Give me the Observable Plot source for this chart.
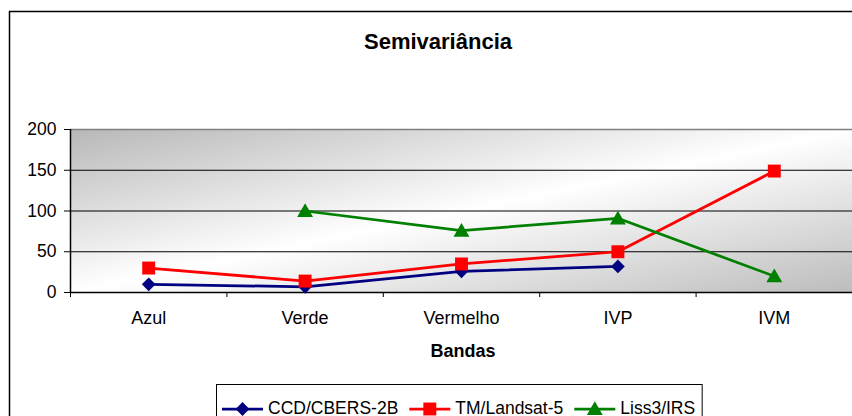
<!DOCTYPE html>
<html><head><meta charset="utf-8">
<script src="https://cdn.jsdelivr.net/npm/d3@7"></script>
<script src="https://cdn.jsdelivr.net/npm/@observablehq/plot@0.6"></script>
<style>body{margin:0;background:#fff} svg{display:block}</style>
</head><body><div id="chart"></div>
<script>
const categories = ["Azul", "Verde", "Vermelho", "IVP", "IVM"];
const series = ["CCD/CBERS-2B", "TM/Landsat-5", "Liss3/IRS"];
const ccdValues = [10, 7, 26, 32, null];
const tmValues = [30, 14, 35, 50, 149];
const lissValues = [null, 100, 76, 91, 20];
const yTicks = [0, 50, 100, 150, 200];
const titleText = "Semivariância";
const xLabel = "Bandas";

const colors = ["#000080", "#ff0000", "#008000"];
const symbols = ["diamond2", "square", "triangle"];
const radii = [6.2, 7.3, 5.9];
const FONT = "'Liberation Sans', Arial, Helvetica, sans-serif";

const data = [];
[ccdValues, tmValues, lissValues].forEach((arr, s) => arr.forEach((v, i) => {
  if (v != null) data.push({serie: series[s], band: categories[i], pos: i + 0.5, value: v});
}));
const boundaries = d3.range(categories.length + 1);
const centers = categories.map((c, i) => i + 0.5);

const W = 852, H = 416, mL = 70, mR = 0, mT = 129, mB = 124;

const chart = Plot.plot({
  width: W, height: H,
  marginLeft: mL, marginRight: mR, marginTop: mT, marginBottom: mB,
  style: {fontFamily: FONT, fontSize: "17px", background: "transparent", overflow: "visible", color: "#000"},
  x: {domain: [0, categories.length]},
  y: {domain: [0, 200]},
  color: {domain: series, range: colors},
  marks: [
    Plot.frame({fill: "url(#plotBg)", stroke: null}),
    Plot.ruleY(yTicks.filter(t => t > 0 && t < 200), {stroke: "#000", strokeWidth: 1}),
    Plot.ruleY([200], {stroke: "#808080", strokeWidth: 1.5}),
    Plot.axisY({ticks: yTicks, tickSize: 6, tickPadding: 8, fontSize: 17.5, label: null}),
    Plot.ruleX([0], {stroke: "#000", strokeWidth: 1.5}),
    Plot.ruleY([0], {stroke: "#000", strokeWidth: 1.5}),
    Plot.axisX({ticks: boundaries, tickSize: 5, tickFormat: () => "", label: null}),
    Plot.axisX({ticks: centers, tickSize: 0, tickPadding: 19, fontSize: 18, tickFormat: d => categories[Math.floor(d)], label: null}),
    Plot.line(data, {x: "pos", y: "value", z: "serie", stroke: "serie", strokeWidth: 2.75}),
    ...series.map((s, k) => Plot.dot(data.filter(d => d.serie === s), {
      x: "pos", y: "value", symbol: () => symbols[k], r: radii[k], fill: colors[k], stroke: null, dy: k === 2 ? 1.5 : 0
    }))
  ]
});

const svg = d3.select(chart);
const defs = svg.insert("defs", ":first-child");
const g = defs.append("linearGradient").attr("id", "plotBg")
  .attr("x1", 0).attr("y1", 0).attr("x2", 1).attr("y2", 1);
g.append("stop").attr("offset", "0%").attr("stop-color", "#b8b8b8");
g.append("stop").attr("offset", "50%").attr("stop-color", "#ffffff");
g.append("stop").attr("offset", "100%").attr("stop-color", "#bcbcbc");

// outer chart border
svg.insert("rect", "defs + *").attr("x", 9.5).attr("y", 11.5).attr("width", W + 20).attr("height", H + 20)
  .attr("fill", "none").attr("stroke", "#000").attr("stroke-width", 1.5);

// title
svg.append("text").attr("x", 438).attr("y", 48.5).attr("text-anchor", "middle")
  .attr("font-family", FONT).attr("font-size", 22).attr("font-weight", "bold").text(titleText);

// x label
svg.append("text").attr("x", mL + (W - mL - mR) / 2 + 2).attr("y", 357).attr("text-anchor", "middle")
  .attr("font-family", FONT).attr("font-size", 18).attr("font-weight", "bold").text(xLabel);

document.getElementById("chart").appendChild(chart);

// legend (laid out after the svg is in the DOM so text can be measured)
const leg = svg.append("g").attr("text-anchor", "start");
const box = leg.append("rect").attr("x", 216.5).attr("y", 384.5).attr("height", 60)
  .attr("fill", "#fff").attr("stroke", "#000").attr("stroke-width", 1);
let cx = 222;
const ly = 409;
series.forEach((s, k) => {
  leg.append("line").attr("x1", cx).attr("x2", cx + 41).attr("y1", ly).attr("y2", ly)
    .attr("stroke", colors[k]).attr("stroke-width", 2.75);
  const sym = {diamond2: d3.symbolDiamond2, square: d3.symbolSquare, triangle: d3.symbolTriangle}[symbols[k]];
  leg.append("path").attr("d", d3.symbol(sym, Math.PI * radii[k] * radii[k])())
    .attr("transform", `translate(${cx + 20.5},${ly + (k === 2 ? 1.5 : 0)})`).attr("fill", colors[k]);
  const t = leg.append("text").attr("x", cx + 46).attr("y", 414).attr("font-family", FONT)
    .attr("text-anchor", "start").attr("font-size", 17.5).text(s);
  cx = cx + 46 + t.node().getComputedTextLength() + 11;
});
box.attr("width", cx - 216.5 - 4);
</script>
</body></html>
